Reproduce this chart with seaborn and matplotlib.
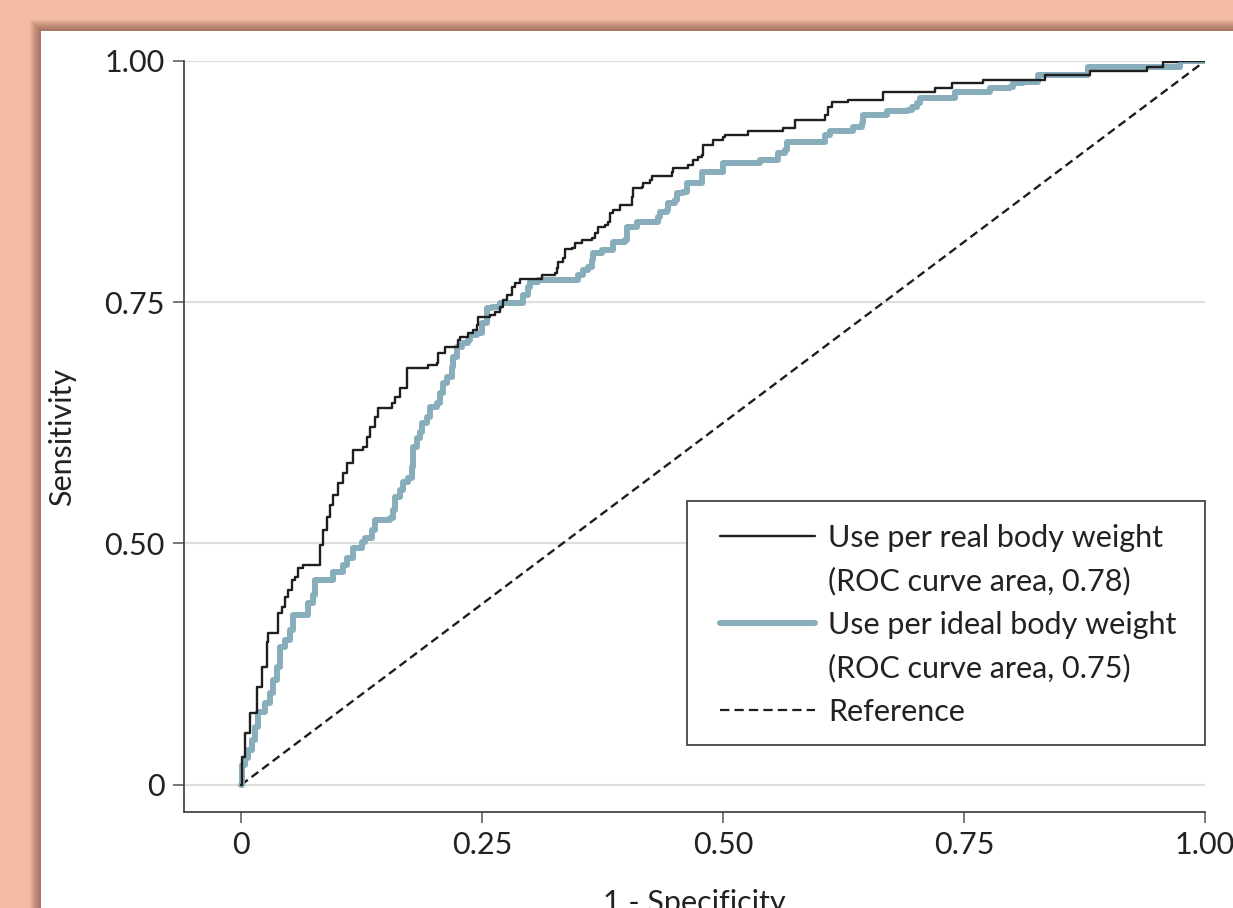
import matplotlib
matplotlib.use("Agg")
import matplotlib.pyplot as plt
import seaborn as sns
from matplotlib.patches import Rectangle
from matplotlib.lines import Line2D

# ---- data (step vertices, steps-post) ----
real_fpr = [0.000, 0.001, 0.004, 0.009, 0.017, 0.022, 0.027, 0.028, 0.038, 0.043,
            0.046, 0.049, 0.053, 0.056, 0.059, 0.064, 0.082, 0.085, 0.089, 0.092,
            0.095, 0.101, 0.106, 0.110, 0.116, 0.127, 0.131, 0.134, 0.139, 0.142,
            0.157, 0.160, 0.165, 0.172, 0.194, 0.203, 0.204, 0.212, 0.225, 0.227,
            0.235, 0.241, 0.245, 0.246, 0.258, 0.263, 0.269, 0.272, 0.276, 0.281,
            0.284, 0.289, 0.312, 0.326, 0.328, 0.329, 0.334, 0.336, 0.343, 0.346,
            0.354, 0.364, 0.367, 0.370, 0.378, 0.381, 0.383, 0.386, 0.393, 0.406,
            0.407, 0.416, 0.417, 0.424, 0.426, 0.447, 0.448, 0.464, 0.469, 0.474,
            0.478, 0.479, 0.490, 0.500, 0.502, 0.526, 0.562, 0.575, 0.606, 0.609,
            0.613, 0.630, 0.666, 0.720, 0.738, 0.770, 0.834, 0.881, 0.940, 0.956,
            0.971, 1.000]
real_tpr = [0.000, 0.039, 0.072, 0.099, 0.135, 0.163, 0.198, 0.210, 0.238, 0.246,
            0.260, 0.269, 0.283, 0.287, 0.300, 0.304, 0.331, 0.352, 0.370, 0.387,
            0.401, 0.417, 0.431, 0.445, 0.463, 0.467, 0.481, 0.494, 0.508, 0.521,
            0.528, 0.536, 0.548, 0.576, 0.580, 0.583, 0.597, 0.605, 0.615, 0.619,
            0.624, 0.628, 0.635, 0.646, 0.649, 0.653, 0.660, 0.670, 0.677, 0.688,
            0.693, 0.699, 0.704, 0.707, 0.714, 0.722, 0.728, 0.740, 0.742, 0.749,
            0.753, 0.756, 0.762, 0.771, 0.773, 0.778, 0.790, 0.794, 0.801, 0.812,
            0.825, 0.826, 0.831, 0.836, 0.841, 0.847, 0.852, 0.856, 0.863, 0.867,
            0.870, 0.884, 0.891, 0.895, 0.898, 0.903, 0.907, 0.918, 0.925, 0.936,
            0.943, 0.946, 0.957, 0.963, 0.970, 0.974, 0.981, 0.986, 0.992, 0.999,
            1.000, 1.000]

ideal_fpr = [0.000, 0.001, 0.004, 0.007, 0.011, 0.015, 0.018, 0.025, 0.030, 0.033,
             0.037, 0.040, 0.046, 0.051, 0.054, 0.070, 0.075, 0.077, 0.095, 0.106,
             0.110, 0.116, 0.126, 0.129, 0.136, 0.139, 0.155, 0.158, 0.160, 0.165,
             0.168, 0.173, 0.177, 0.178, 0.183, 0.186, 0.188, 0.193, 0.196, 0.203,
             0.206, 0.210, 0.214, 0.219, 0.220, 0.224, 0.229, 0.235, 0.238, 0.245,
             0.250, 0.255, 0.260, 0.269, 0.293, 0.298, 0.300, 0.308, 0.350, 0.355,
             0.360, 0.364, 0.365, 0.374, 0.386, 0.398, 0.400, 0.411, 0.433, 0.435,
             0.442, 0.443, 0.450, 0.452, 0.459, 0.463, 0.478, 0.500, 0.538, 0.557,
             0.564, 0.566, 0.606, 0.611, 0.635, 0.644, 0.645, 0.670, 0.692, 0.696,
             0.701, 0.704, 0.741, 0.777, 0.798, 0.801, 0.811, 0.827, 0.879, 0.974,
             1.000]
ideal_tpr = [0.000, 0.028, 0.037, 0.048, 0.062, 0.080, 0.101, 0.113, 0.127, 0.145,
             0.163, 0.191, 0.200, 0.214, 0.235, 0.251, 0.262, 0.283, 0.294, 0.304,
             0.314, 0.327, 0.336, 0.341, 0.352, 0.366, 0.369, 0.380, 0.398, 0.407,
             0.419, 0.424, 0.439, 0.467, 0.479, 0.488, 0.500, 0.508, 0.522, 0.528,
             0.541, 0.555, 0.564, 0.577, 0.591, 0.605, 0.610, 0.615, 0.622, 0.624,
             0.638, 0.659, 0.660, 0.666, 0.677, 0.688, 0.695, 0.698, 0.704, 0.711,
             0.715, 0.725, 0.735, 0.739, 0.750, 0.753, 0.771, 0.778, 0.785, 0.791,
             0.794, 0.804, 0.808, 0.818, 0.819, 0.831, 0.847, 0.859, 0.863, 0.873,
             0.877, 0.888, 0.898, 0.903, 0.909, 0.914, 0.925, 0.931, 0.932, 0.936,
             0.942, 0.949, 0.957, 0.963, 0.964, 0.970, 0.971, 0.981, 0.992, 1.000,
             1.000]

ref_x = [0.0, 1.0]
ref_y = [0.0, 1.0]

x_ticks = [0.0, 0.25, 0.50, 0.75, 1.0]
x_tick_labels = ["0", "0.25", "0.50", "0.75", "1.00"]
# as published: the tick labelled 0.50 sits at one third of the axis, 0.75 at two thirds
y_ticks = [0.0, 0.334, 0.667, 1.0]
y_tick_labels = ["0", "0.50", "0.75", "1.00"]

legend_labels = ["Use per real body weight", "(ROC curve area, 0.78)",
                 "Use per ideal body weight", "(ROC curve area, 0.75)",
                 "Reference"]
x_label = "1 - Specificity"
y_label = "Sensitivity"

# ---- style ----
BLACK = "#1e1e1e"
BLUE = "#88adbb"
SALMON = "#f3bba3"
FS = 22

sns.set_theme(style="white")
plt.rcParams["font.family"] = ["Lato", "DejaVu Sans"]

W, H = 1233, 908
fig = plt.figure(figsize=(W / 100, H / 100), dpi=100, facecolor=SALMON)

# shadowed white panel
PX0, PY0 = 41, 31
for k in range(1, 12):
    fig.patches.append(Rectangle(((PX0 - k) / W, 0), 1, (H - PY0 + k) / H,
                                 transform=fig.transFigure, facecolor="#6e4030",
                                 alpha=0.065, edgecolor="none", zorder=-3))
fig.patches.append(Rectangle((PX0 / W, 0), 1, (H - PY0) / H,
                             transform=fig.transFigure, facecolor="white",
                             edgecolor="none", zorder=-2))

ax = fig.add_axes([184 / W, (H - 812) / H, (1205 - 184) / W, (812 - 61) / H])
ax.set_facecolor("none")

sns.lineplot(x=ref_x, y=ref_y, ax=ax, color=BLACK, lw=1.7,
             linestyle=(0, (3.6, 2.0)), estimator=None, sort=False, zorder=2)
sns.lineplot(x=ideal_fpr, y=ideal_tpr, ax=ax, color=BLUE, lw=4.3,
             drawstyle="steps-post", estimator=None, sort=False, zorder=3)
sns.lineplot(x=real_fpr, y=real_tpr, ax=ax, color=BLACK, lw=1.7,
             drawstyle="steps-post", estimator=None, sort=False, zorder=4)

ax.set_xlim(-0.0591, 1.0)
ax.set_ylim(-0.0373, 1.0)
ax.set_xticks(x_ticks)
ax.set_xticklabels(x_tick_labels)
ax.set_yticks(y_ticks)
ax.set_yticklabels(y_tick_labels)

ax.yaxis.grid(True, color="#dedede", lw=1.6)
ax.xaxis.grid(False)
ax.set_axisbelow(True)

for s in ("top", "right"):
    ax.spines[s].set_visible(False)
for s in ("left", "bottom"):
    ax.spines[s].set_color("#3a3a3a")
    ax.spines[s].set_linewidth(1.2)

ax.tick_params(axis="both", which="major", bottom=True, left=True,
               direction="out", length=8, width=1.1, color="#555555",
               labelsize=FS, labelcolor="#222222", pad=6)

ax.set_xlabel(x_label, fontsize=FS, color="#222222", labelpad=21)
ax.set_ylabel(y_label, fontsize=FS, color="#222222", labelpad=20)

# legend frame + legend
frame = Rectangle((0.4927, 0.089), 0.5073, 0.325, transform=ax.transAxes,
                  facecolor="white", edgecolor="#444444", lw=1.3, zorder=5,
                  clip_on=False)
ax.add_patch(frame)
handles = [Line2D([], [], color=BLACK, lw=1.7),
           Line2D([], [], color="none"),
           Line2D([], [], color=BLUE, lw=4.3),
           Line2D([], [], color="none"),
           Line2D([], [], color=BLACK, lw=1.6, linestyle=(0, (4.2, 2.3)))]
leg = ax.legend(handles, legend_labels, loc="upper left",
                bbox_to_anchor=(0.525, 0.384), frameon=False, borderpad=0,
                borderaxespad=0, handlelength=3.1, handletextpad=0.43,
                labelspacing=0.5, fontsize=FS, labelcolor="#222222")
leg.set_zorder(6)

fig.savefig("out.png", dpi=100, facecolor=fig.get_facecolor())
